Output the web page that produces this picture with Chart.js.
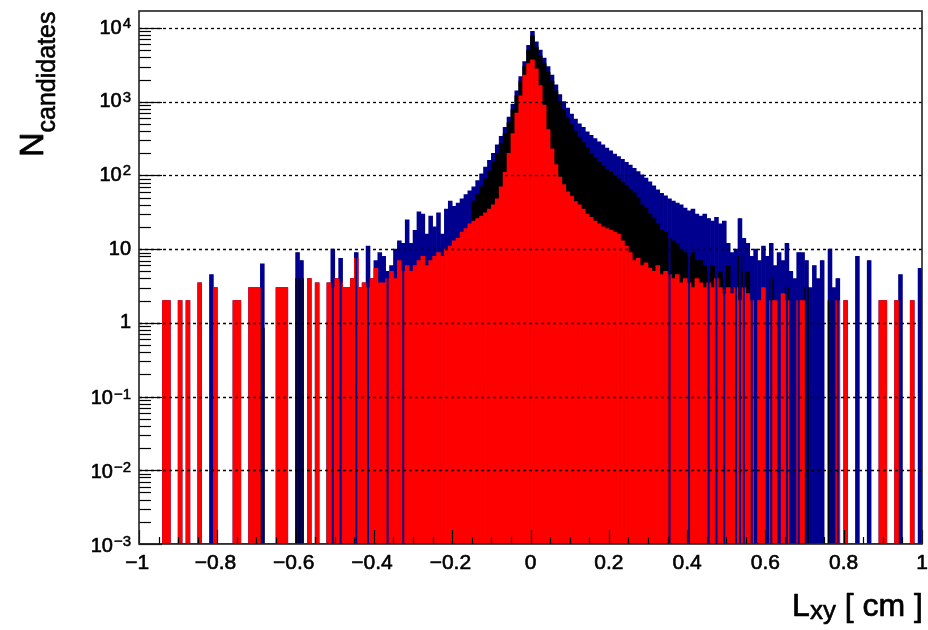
<!DOCTYPE html>
<html><head><meta charset="utf-8">
<script src="https://cdn.jsdelivr.net/npm/chart.js@4.4.1/dist/chart.umd.min.js"></script>
<style>html,body{margin:0;padding:0;background:#fff;overflow:hidden}canvas{display:block}</style>
</head><body>
<canvas id="c" width="928" height="630"></canvas>
<script>
// ---- histogram binning ----
const xLow = -1, xHigh = 1, nBins = 200;

// ---- tick labels ----
const yTickValues = [1e-3, 1e-2, 1e-1, 1, 10, 100, 1000, 1e4];
const yTickBase   = ['10', '10', '10', '1', '10', '10', '10', '10'];
const yTickExp    = ['\u22123', '\u22122', '\u22121', '', '', '2', '3', '4'];
const xTickValues = [-1, -0.8, -0.6, -0.4, -0.2, 0, 0.2, 0.4, 0.6, 0.8, 1];
const xTickLabels = ['\u22121', '\u22120.8', '\u22120.6', '\u22120.4', '\u22120.2', '0', '0.2', '0.4', '0.6', '0.8', '1'];

// ---- series (candidates per bin) ----
const totalCounts = [
  0,0,0,0,0,0,2,2,0,0,
  2,0,2,0,0,3.5,0,0,4.5,3,
  0,0,0,0,2,2,0,0,3,3,
  3,6.3,0,0,0,3,3,3,0,0,
  9,7,0,4,0,3.5,0,0,3.5,10,
  4,7.5,3,3,4,9,3,3.5,11,4,
  7,9,8,5,6,10,13,12,25,12,
  18,32,30,16,28,20,31,16,35,45,
  38,42,48,55,62,70,85,105,130,160,
  200,260,340,450,620,920,1400,2200,3500,5800,
  9000,6500,5000,3900,3000,2300,1700,1250,1000,820,
  680,580,500,450,390,350,315,285,260,235,
  215,195,180,165,150,138,125,113,102,92,
  82,72,64,57,53,48,45,42,40,36,
  33,35,30,28,30,26,24,27,22,24,
  12,9,10,26,14,12,8,10,7,11,
  8,12,6,9,7,12,5,4,9,9,
  7,3,6,4,7,0,10,3,4,0,
  2,0,0,8,0,0,7,0,0,2,
  2,0,0,2,4.5,0,0,2,0,5.5
];
const blackCounts = [
  0,0,0,0,0,0,0,0,0,0,
  0,0,0,0,0,0,0,0,0,0,
  0,0,0,0,0,0,0,0,0,0,
  0,0.85,0,0,0,0,0,0,0,0,
  4,4,0,0,0,0,0,0,1,0,
  0,0,0,0,0,0,0,0,0,0,
  0,0,0,0,0,0,0,0,0,0,
  0,0,0,0,0,0,0,0,0,0,
  0,0,0,0,0,45,55,70,90,115,
  150,200,270,370,520,790,1200,1900,3000,5000,
  7800,5500,4200,3300,2500,1900,1400,1000,780,610,
  490,400,330,280,240,200,175,150,135,120,
  110,100,90,80,72,65,58,50,40,36,
  30,26,22,18,17,14,13,12,10,9,
  8,9,7,7,6,5,6,4,5,4,
  6,0,0,8,5,5,0,0,0,0,
  0,4,0,0,0,3,0,0,0,0,
  3,0,0,0,0,0,2,0,0,0,
  0,0,0,0,0,0,0,0,0,0,
  0,0,0,0,0,0,0,0,0,0
];
const redCounts = [
  0,0,0,0,0,0,2,2,0,0,
  2,0,2,0,0,3.5,0,0,0,3,
  0,0,0,0,2,2,0,0,3,3,
  3,0,0,0,0,3,3,3,0,0,
  0,0,0,4,0,3.5,0,0,3.5,3,
  4,3.5,3,3,4,7.5,3,3.5,3,4,
  5.5,3.5,3.5,4,5,4,7,5,6,5,
  6,7,8,6,7,8,9,8,10,11,
  13,14,17,19,22,24,26,28,31,35,
  40,48,70,110,200,370,700,1200,2300,3300,
  3700,2800,1650,900,420,230,140,95,75,60,
  52,44,40,35,30,27,24,22,20,19,
  18,17,16,13,11,9,7,7.5,6,6.5,
  5.5,5,6,4.5,5,4.5,4,4.5,3.5,4,
  3.5,3,4,3.5,3,3.5,3,4,3,2.5,
  3,2.5,3,2,3,2.5,2,0,2,3,
  0,2,2,0,2.5,2,0,0,2,2,
  0,0,0,0,0,0,0,0,2,0,
  2,0,0,0,0,0,0,0,0,2,
  2,0,0,2,0,0,0,2,0,0
];
// bins whose total-error bar reaches down to the axis floor
const longErrorBins = [18, 31, 40, 41, 49, 51, 55, 58, 63, 67,
  135, 140, 145, 147, 149, 152, 153, 154, 156, 160, 161, 165, 168, 170,
  172, 174, 176, 178, 183, 186, 194, 199];

const binWidth = (xHigh - xLow) / nBins;
const binCenters = totalCounts.map((_, i) => xLow + (i + 0.5) * binWidth);
const pts = arr => arr.map((v, i) => ({x: binCenters[i], y: v}));
const yFloor = 1e-3;
const errBars = longErrorBins.map(i => ({x: binCenters[i], y: [yFloor, totalCounts[i]]}));

const FONT = '"Liberation Sans", Arial, Helvetica, sans-serif';

function heavyText(ctx, txt, x, y, w) {
  ctx.lineWidth = w;
  ctx.strokeText(txt, x, y);
  ctx.fillText(txt, x, y);
}

const rootStyle = {
  id: 'rootStyle',
  afterDatasetsDraw(chart) {
    const {ctx, chartArea: a, scales: {x, y}} = chart;
    ctx.save();
    // dashed grid at decades
    ctx.strokeStyle = '#000';
    ctx.lineWidth = 1.3;
    ctx.setLineDash([3, 3]);
    for (const v of yTickValues) {
      const py = Math.round(y.getPixelForValue(v)) + 0.5;
      if (py > a.bottom - 2) continue;
      ctx.beginPath(); ctx.moveTo(a.left, py); ctx.lineTo(a.right, py); ctx.stroke();
    }
    ctx.setLineDash([]);
    // y ticks (inside)
    ctx.lineWidth = 1.2;
    for (let e = -3; e <= 4; e++) {
      for (let k = 1; k <= 9; k++) {
        const v = k * Math.pow(10, e);
        if (v > y.max) continue;
        const py = Math.round(y.getPixelForValue(v)) + 0.5;
        const len = k === 1 ? 23 : 12;
        ctx.beginPath(); ctx.moveTo(a.left, py); ctx.lineTo(a.left + len, py); ctx.stroke();
      }
    }
    // x ticks (inside)
    for (let j = 0; j <= 40; j++) {
      const v = xLow + j * 0.05;
      const px = Math.round(x.getPixelForValue(v)) + 0.5;
      const len = j % 4 === 0 ? 14 : 7;
      ctx.beginPath(); ctx.moveTo(px, a.bottom); ctx.lineTo(px, a.bottom - len); ctx.stroke();
    }
    // frame
    ctx.strokeStyle = '#222';
    ctx.lineWidth = 1.6;
    ctx.strokeRect(a.left, a.top, a.right - a.left, a.bottom - a.top);
    ctx.restore();
  },
  afterDraw(chart) {
    const {ctx, chartArea: a, scales: {x, y}} = chart;
    ctx.save();
    ctx.fillStyle = '#000';
    ctx.strokeStyle = '#000';
    ctx.lineJoin = 'round';
    // y tick labels
    const rightEdge = a.left - 8;
    yTickValues.forEach((v, i) => {
      const py = y.getPixelForValue(v) + (v < 1 ? 2 : 0);
      ctx.font = '20px ' + FONT;
      const wb = ctx.measureText(yTickBase[i]).width;
      ctx.font = '15px ' + FONT;
      const we = yTickExp[i] ? ctx.measureText(yTickExp[i]).width + 1 : 0;
      const x0 = rightEdge - wb - we;
      ctx.textBaseline = 'middle';
      ctx.textAlign = 'left';
      ctx.font = '20px ' + FONT;
      heavyText(ctx, yTickBase[i], x0, py, 0.6);
      if (yTickExp[i]) {
        ctx.textBaseline = 'alphabetic';
        ctx.font = '15px ' + FONT;
        heavyText(ctx, yTickExp[i], x0 + wb + 1, py, 0.5);
      }
    });
    // x tick labels
    ctx.font = '21px ' + FONT;
    ctx.textAlign = 'center';
    ctx.textBaseline = 'alphabetic';
    xTickValues.forEach((v, i) => {
      const px = x.getPixelForValue(v);
      const lab = xTickLabels[i];
      const off = lab.startsWith('\u2212') ? -ctx.measureText('\u2212').width * 0.15 : 0;
      heavyText(ctx, lab, px + off, a.bottom + 25, 0.6);
    });
    // x axis title: L_xy [ cm ]
    ctx.textAlign = 'left';
    ctx.font = '32px ' + FONT;
    const wL = ctx.measureText('L').width;
    const wR = ctx.measureText(' [ cm ]').width;
    ctx.font = '26px ' + FONT;
    const wS = ctx.measureText('xy').width;
    const tx = a.right + 1 - wR - wS - wL;
    const tb = a.bottom + 72;
    ctx.font = '32px ' + FONT; heavyText(ctx, 'L', tx, tb, 0.7);
    ctx.font = '26px ' + FONT; heavyText(ctx, 'xy', tx + wL, tb + 3, 0.6);
    ctx.font = '32px ' + FONT; heavyText(ctx, ' [ cm ]', tx + wL + wS, tb, 0.7);
    // y axis title: N_candidates (rotated)
    ctx.save();
    ctx.translate(43, 157);
    ctx.rotate(-Math.PI / 2);
    ctx.font = '34px ' + FONT;
    heavyText(ctx, 'N', 0, 0, 0.8);
    const wN = ctx.measureText('N').width;
    ctx.font = '25px ' + FONT;
    heavyText(ctx, 'candidates', wN, 12, 0.6);
    ctx.restore();
    ctx.restore();
  }
};

new Chart(document.getElementById('c'), {
  type: 'bar',
  data: {
    datasets: [
      {label: 'total errors', data: errBars, backgroundColor: '#00008f', order: -1, barPercentage: 0.5},
      {label: 'red', data: pts(redCounts), backgroundColor: '#ff0000', order: 0},
      {label: 'black', data: pts(blackCounts), backgroundColor: '#000000', order: 1},
      {label: 'total', data: pts(totalCounts), backgroundColor: '#00008f', order: 2}
    ]
  },
  options: {
    responsive: false,
    animation: false,
    devicePixelRatio: 1,
    layout: {padding: {left: 139, right: 6, top: 11, bottom: 86}},
    datasets: {bar: {grouped: false, barPercentage: 1, categoryPercentage: 1, borderWidth: 0}},
    plugins: {legend: {display: false}, tooltip: {enabled: false}},
    scales: {
      x: {type: 'linear', min: xLow, max: xHigh, display: false, offset: false},
      y: {type: 'logarithmic', min: 1e-3, max: 1.7e4, display: false}
    }
  },
  plugins: [rootStyle]
});
</script>
</body></html>
